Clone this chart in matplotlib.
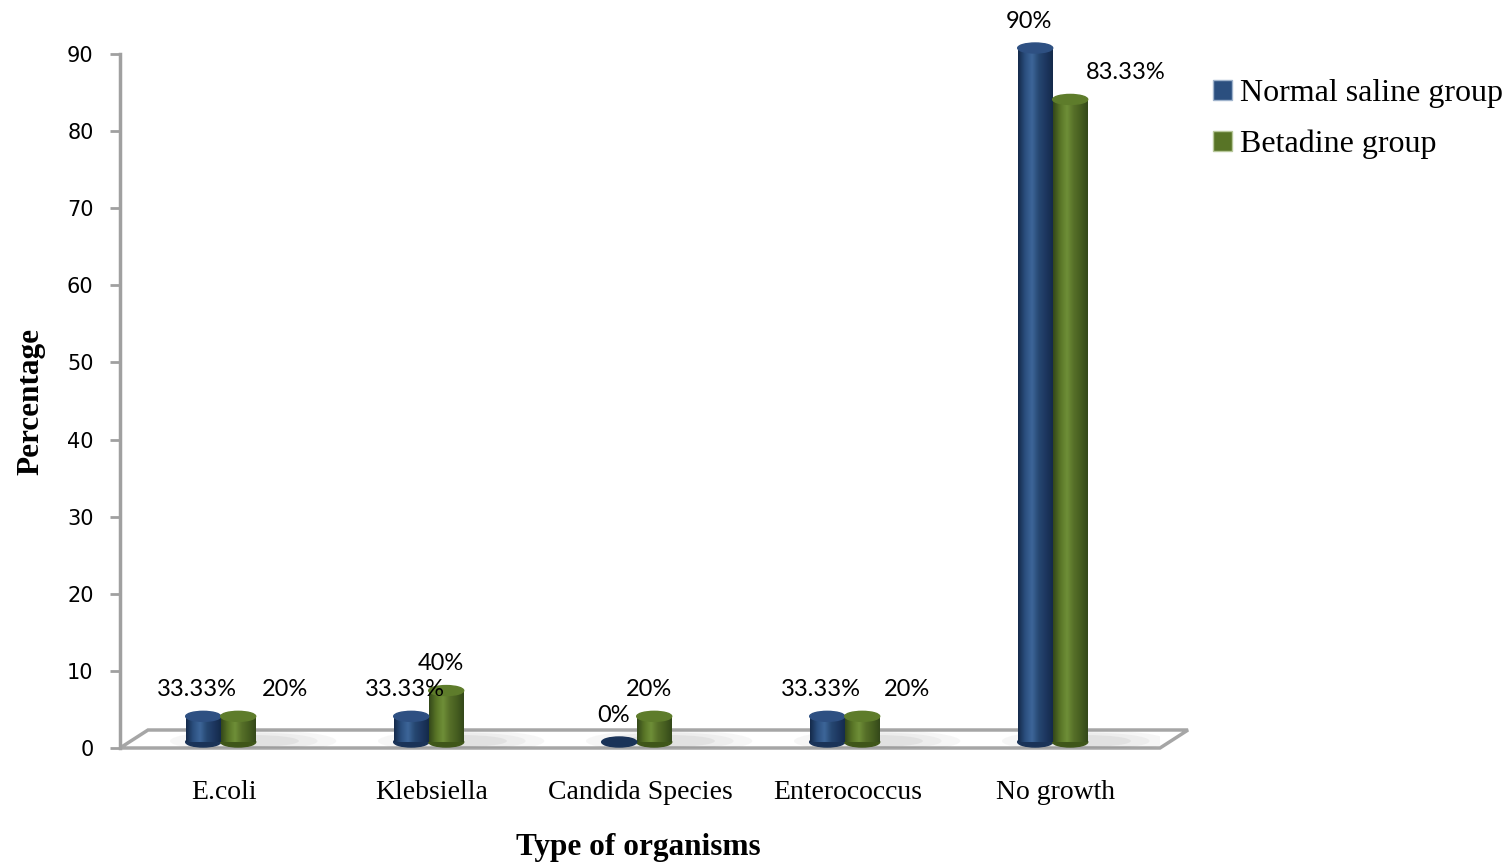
import numpy as np
import matplotlib.pyplot as plt
from matplotlib.patches import Ellipse, Polygon, Patch
from matplotlib.colors import LinearSegmentedColormap

organisms = ['E.coli', 'Klebsiella', 'Candida Species', 'Enterococcus', 'No growth']
saline = [3.33, 3.33, 0, 3.33, 90]
betadine = [3.33, 6.67, 3.33, 3.33, 83.33]
saline_labels = ['33.33%', '33.33%', '0%', '33.33%', '90%']
betadine_labels = ['20%', '40%', '20%', '20%', '83.33%']

# label nudges in pixels (Excel-style placement)
saline_dx = [-6, -6, -6, -6, -6]
betadine_dx = [47, -5, -5, 45, 56]

W, H = 1512, 868
fig = plt.figure(figsize=(W / 100, H / 100), dpi=100)
ax = fig.add_axes([120 / W, 120 / H, 1040 / W, 694 / H])
ax.set_xlim(-0.5, 4.5)
ax.set_ylim(0, 90)

px_y = 90 / 694.0     # data units per pixel, vertical
px_x = 5 / 1040.0     # data units per pixel, horizontal
base = 6 * px_y       # bars stand a little back on the floor
bw = 35 * px_x
eh = 10 * px_y

blue_cm = LinearSegmentedColormap.from_list('b', ['#142a4a', '#2b4f7f', '#3d6699', '#264771', '#1d3760', '#142a4a'])
green_cm = LinearSegmentedColormap.from_list('g', ['#34481a', '#587426', '#6f8f38', '#566f28', '#465e20', '#34481a'])
grad = np.linspace(0, 1, 64)[np.newaxis, :]

# floor
dx_back, dy_back = 28 * px_x, 18 * px_y
floor = Polygon([(-0.5, 0), (4.5, 0), (4.5 + dx_back, dy_back), (-0.5 + dx_back, dy_back)],
                closed=True, facecolor='white', edgecolor='#a6a6a6', lw=2.5, zorder=1, clip_on=False)
ax.add_patch(floor)

x = np.arange(len(organisms))
for i in x:
    # soft shadow behind each pair
    for k, a in enumerate([0.05, 0.06, 0.08]):
        ax.add_patch(Ellipse((i + 0.14, base + 1 * px_y), 0.8 - k * 0.18, (22 - k * 5) * px_y,
                             color='#606060', alpha=a, lw=0, zorder=1.5))

def cylinder(xc, val, cmap, top, bottom):
    if val <= 0:
        ax.add_patch(Ellipse((xc, base), bw, eh, color=bottom, zorder=3, clip_on=False))
        return
    bars = ax.bar(xc, val, bw, bottom=base, color=bottom, zorder=2, clip_on=False)
    r = bars[0]
    ax.add_patch(Ellipse((xc, base), bw, eh, color=bottom, zorder=2, clip_on=False))
    im = ax.imshow(grad, extent=(r.get_x(), r.get_x() + r.get_width(), base, base + r.get_height()),
                   cmap=cmap, aspect='auto', zorder=2.5, interpolation='bicubic')
    im.set_clip_on(False)
    ax.add_patch(Ellipse((xc, base + val), bw, eh, color=top, zorder=3, clip_on=False))

for i in x:
    cylinder(i - 0.1, saline[i], blue_cm, '#2e5082', '#1a3358')
    cylinder(i - 0.1 + bw, betadine[i], green_cm, '#5e7c2b', '#3f5619')

lab_font = dict(family='Lato', fontsize=17, color='black', ha='center', va='center')
for i in x:
    ax.annotate(saline_labels[i], (i - 0.1, base + saline[i]), xytext=(saline_dx[i], 27),
                textcoords='offset pixels', zorder=5, annotation_clip=False, **lab_font)
    ax.annotate(betadine_labels[i], (i - 0.1 + bw, base + betadine[i]), xytext=(betadine_dx[i], 27),
                textcoords='offset pixels', zorder=5, annotation_clip=False, **lab_font)

ax.set_xlim(-0.5, 4.5)
ax.set_ylim(0, 90)
for s in ['top', 'right', 'bottom']:
    ax.spines[s].set_visible(False)
ax.spines['left'].set_color('#a0a0a0')
ax.spines['left'].set_linewidth(2.5)
ax.set_yticks(range(0, 91, 10))
ax.tick_params(axis='y', length=7, width=2, color='#a0a0a0', pad=12, labelsize=15)
for t in ax.get_yticklabels():
    t.set_family('DejaVu Sans')
ax.set_xticks(x)
ax.set_xticklabels(organisms, family='Liberation Serif', fontsize=20)
ax.tick_params(axis='x', length=0, pad=23)
ax.patch.set_visible(False)

fig.text(638 / W, 1 - 847 / H, 'Type of organisms', family='Liberation Serif', weight='bold',
         fontsize=22.5, ha='center', va='center')
fig.text(31 / W, 1 - 402 / H, 'Percentage', family='Liberation Serif', weight='bold',
         fontsize=22.5, ha='center', va='center', rotation=90)

handles = [Patch(facecolor='#2b4f7f', edgecolor='#9fb3cc', lw=1),
           Patch(facecolor='#587426', edgecolor='#b7c79a', lw=1)]
fig.legend(handles, ['Normal saline group', 'Betadine group'], loc='upper left',
           bbox_to_anchor=(1213 / W, 1 - 79 / H), frameon=False,
           prop=dict(family='Liberation Serif', size=23), handlelength=0.6, handleheight=0.6,
           handletextpad=0.25, labelspacing=0.67, borderpad=0, borderaxespad=0)

fig.savefig('out.png', dpi=100)
